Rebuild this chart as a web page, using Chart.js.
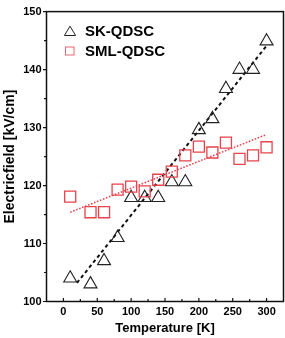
<!DOCTYPE html>
<html>
<head>
<meta charset="utf-8">
<script src="https://cdn.jsdelivr.net/npm/chart.js@4/dist/chart.umd.min.js"></script>
<style>
  html, body { margin: 0; padding: 0; background: #fff; }
  #wrap { position: relative; width: 285px; height: 338px; }
  canvas { position: absolute; left: 0; top: 0; }
  .leg { position: absolute; font: bold 15px "Liberation Sans", Arial, sans-serif; color: #000; line-height: 16px; white-space: nowrap; }
  .leg svg { position: absolute; }
</style>
</head>
<body>
<div id="wrap">
  <canvas id="c" width="285" height="338"></canvas>
  <div class="leg" style="left:63px; top:23px;">
    <svg width="14" height="12" style="left:0;top:2px" viewBox="0 0 14 12"><polygon points="7,1.2 12.6,10.5 1.4,10.5" fill="none" stroke="#222" stroke-width="1"/></svg>
    <span style="position:absolute;left:22px;top:0">SK-QDSC</span>
  </div>
  <div class="leg" style="left:63px; top:43px;">
    <svg width="14" height="12" style="left:0;top:2px" viewBox="0 0 14 12"><rect x="2.5" y="2" width="8.5" height="8" fill="none" stroke="#ee6670" stroke-width="1"/></svg>
    <span style="position:absolute;left:22px;top:0">SML-QDSC</span>
  </div>
</div>
<script>
// ---- data ----
const temperature = [10, 40, 60, 80, 100, 120, 140, 160, 180, 200, 220, 240, 260, 280, 300];
const skField  = [104.0, 103.0, 107.0, 111.0, 117.9, 117.9, 117.9, 120.6, 120.6, 129.6, 131.5, 136.7, 140.0, 140.0, 144.9];
const smlField = [118.1, 115.4, 115.4, 119.3, 119.8, 119.0, 121.0, 122.4, 125.2, 126.7, 125.7, 127.4, 124.6, 125.2, 126.6];
const skFitT   = [20, 300];
const skFitE   = [103.2, 144.1];
const smlFitT  = [10, 300];
const smlFitE  = [115.4, 128.8];
const xTicks = [0, 50, 100, 150, 200, 250, 300];
const yTicks = [100, 110, 120, 130, 140, 150];

const RED = '#e8424c';
const toXY = (xs, ys) => xs.map((x, i) => ({ x: x, y: ys[i] }));

const frameAndTicks = {
  id: 'frameAndTicks',
  afterDraw(chart) {
    const { ctx, chartArea: a, scales } = chart;
    const xs = scales.x, ys = scales.y;
    ctx.save();
    ctx.strokeStyle = '#111';
    ctx.lineWidth = 1.5;
    ctx.strokeRect(a.left, a.top, a.right - a.left, a.bottom - a.top);
    ctx.lineWidth = 1.2;
    ctx.beginPath();
    for (let v = 0; v <= 300; v += 25) {
      const px = xs.getPixelForValue(v);
      const len = (v % 50 === 0) ? 3.5 : 2.5;
      ctx.moveTo(px, a.bottom);
      ctx.lineTo(px, a.bottom - len);
    }
    for (let v = 100; v <= 150; v += 5) {
      const py = ys.getPixelForValue(v);
      const len = (v % 10 === 0) ? 3.5 : 2.5;
      ctx.moveTo(a.left, py);
      ctx.lineTo(a.left - len, py);
    }
    ctx.stroke();
    ctx.restore();
  }
};

new Chart(document.getElementById('c'), {
  type: 'scatter',
  data: {
    datasets: [
      {
        label: 'SK-QDSC fit', data: toXY(skFitT, skFitE), showLine: true,
        borderColor: '#111', borderWidth: 2, borderDash: [3.5, 3], pointRadius: 0, fill: false, order: 3
      },
      {
        label: 'SML-QDSC fit', data: toXY(smlFitT, smlFitE), showLine: true,
        borderColor: RED, borderWidth: 1.5, borderDash: [1.6, 1.6], pointRadius: 0, fill: false, order: 4
      },
      {
        label: 'SK-QDSC', data: toXY(temperature, skField),
        pointStyle: 'triangle', pointRadius: 7.5, pointBorderColor: '#222', pointBackgroundColor: 'rgba(0,0,0,0)',
        pointBorderWidth: 1.1, order: 2
      },
      {
        label: 'SML-QDSC', data: toXY(temperature, smlField),
        pointStyle: 'rect', pointRadius: 7.8, pointBorderColor: RED, pointBackgroundColor: 'rgba(0,0,0,0)',
        pointBorderWidth: 1.3, order: 1
      }
    ]
  },
  options: {
    responsive: false,
    animation: false,
    events: [],
    layout: { autoPadding: false, padding: { left: 0, right: 1.5, top: 11, bottom: 0 } },
    plugins: { legend: { display: false }, tooltip: { enabled: false } },
    scales: {
      x: {
        type: 'linear', min: -25, max: 325,
        afterBuildTicks: s => { s.ticks = xTicks.map(v => ({ value: v })); },
        afterFit: s => { s.height = 36.5; s.paddingLeft = 0; s.paddingRight = 0; },
        grid: { display: true, drawOnChartArea: false, drawTicks: false },
        border: { display: false },
        ticks: { padding: 3.5, color: '#000', font: { family: '"Liberation Sans", Arial, sans-serif', size: 11, weight: 'bold' }, maxRotation: 0 },
        title: { display: true, text: 'Temperature [K]', color: '#000', padding: { top: 0, bottom: 2 },
                 font: { family: '"Liberation Sans", Arial, sans-serif', size: 13, weight: 'bold' } }
      },
      y: {
        type: 'linear', min: 100, max: 150,
        afterBuildTicks: s => { s.ticks = yTicks.map(v => ({ value: v })); },
        afterFit: s => { s.width = 46.5; },
        grid: { display: true, drawOnChartArea: false, drawTicks: false },
        border: { display: false },
        ticks: { padding: 5, color: '#000', font: { family: '"Liberation Sans", Arial, sans-serif', size: 11, weight: 'bold' } },
        title: { display: true, text: 'Electricfield [kV/cm]', color: '#000', padding: { top: 1.5, bottom: 0 },
                 font: { family: '"Liberation Sans", Arial, sans-serif', size: 14, weight: 'bold' } }
      }
    }
  },
  plugins: [frameAndTicks]
});
</script>
</body>
</html>
